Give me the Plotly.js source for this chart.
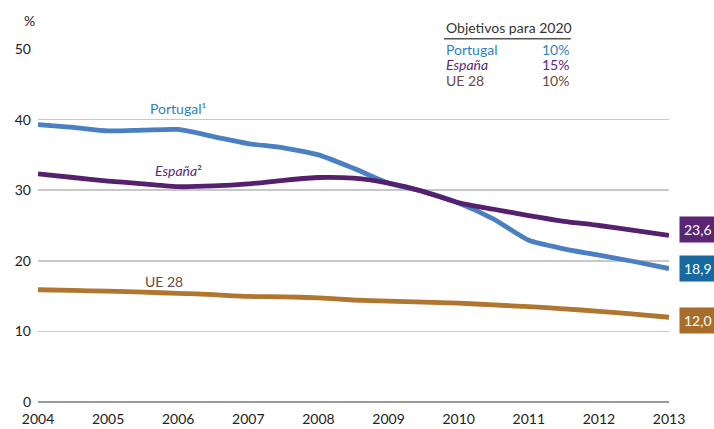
<!DOCTYPE html>
<html>
<head>
<meta charset="utf-8">
<script src="https://cdn.plot.ly/plotly-3.0.1.min.js"></script>
<style>html,body{margin:0;padding:0;background:#fff}#chart{width:714px;height:429px}</style>
</head>
<body>
<div id="chart"></div>
<script>
// Semi-annual reading positions
const years = [2004,2004.5,2005,2005.5,2006,2006.5,2007,2007.5,2008,2008.5,2009,2009.5,2010,2010.5,2011,2011.5,2012,2012.5,2013];
const portugal = [39.3,38.9,38.4,38.5,38.6,37.6,36.6,36.0,35.0,33.1,31.0,29.8,28.2,25.9,22.9,21.7,20.8,19.9,18.9];
const espana   = [32.3,31.8,31.3,30.9,30.5,30.6,30.9,31.4,31.8,31.7,31.0,29.8,28.2,27.3,26.4,25.6,25.0,24.3,23.6];
const ue28     = [15.9,15.8,15.7,15.55,15.4,15.2,14.95,14.9,14.75,14.45,14.3,14.15,14.0,13.75,13.5,13.2,12.85,12.45,12.0];
const xTicks = [2004,2005,2006,2007,2008,2009,2010,2011,2012,2013];
const yTicks = [0,10,20,30,40,50];
const seriesNames = ["Portugal","España","UE 28"];
const targets = ["10%","15%","10%"];
const endLabels = ["18,9","23,6","12,0"];

const FONT = "Lato, 'Open Sans', sans-serif";
const lineCol = ["#4a7fc1","#55216e","#b0752f"];
const boxCol = ["#17699f","#5a2673","#a86d2a"];
const txtCol = ["#2b83c0","#5d2a7a","#6b4a3f"];

const mk = (y, c) => ({x: years, y: y, type: "scatter", mode: "lines",
  line: {color: c, width: 4.8, shape: "spline", smoothing: 0.6}, hoverinfo: "skip", showlegend: false});

const data = [mk(ue28, lineCol[2]), mk(portugal, lineCol[0]), mk(espana, lineCol[1])];

const last = [portugal[portugal.length-1], espana[espana.length-1], ue28[ue28.length-1]];
const endShift = [0, 6, -3];

const annotations = [];
// end labels
for (let i = 0; i < 3; i++) {
  annotations.push({x: 2013, y: last[i], xref: "x", yref: "y", text: endLabels[i], showarrow: false,
    xanchor: "left", xshift: 10, yshift: endShift[i], bgcolor: boxCol[i], borderpad: 4,
    font: {family: FONT, size: 14, color: "#fff"}});
}
// series labels
annotations.push({x: 2006.0, y: 41.6, text: "Portugal¹", showarrow: false,
  font: {family: FONT, size: 14, color: txtCol[0]}});
annotations.push({x: 2006.0, y: 32.8, text: "<i>España</i>²", showarrow: false,
  font: {family: FONT, size: 14, color: txtCol[1]}});
annotations.push({x: 2005.8, y: 17.0, text: "UE 28", showarrow: false,
  font: {family: FONT, size: 14, color: txtCol[2]}});
// % unit (above plot area, paper coords)
annotations.push({x: -0.025, y: 1.082, xref: "paper", yref: "paper", text: "%", showarrow: false,
  yanchor: "middle", font: {family: FONT, size: 14, color: "#222"}});
// targets box heading
annotations.push({x: 2009.79, y: 1.06, xref: "x", yref: "paper", text: "Objetivos para 2020", showarrow: false,
  xanchor: "left", yanchor: "middle", font: {family: FONT, size: 14, color: "#333"}});
const rowY = [50.0, 47.75, 45.6];
for (let i = 0; i < 3; i++) {
  annotations.push({x: 2009.79, y: rowY[i], text: i === 1 ? "<i>" + seriesNames[i] + "</i>" : seriesNames[i],
    showarrow: false, xanchor: "left", yanchor: "middle", font: {family: FONT, size: 14, color: txtCol[i]}});
  annotations.push({x: 2011.6, y: rowY[i], text: targets[i], showarrow: false, xanchor: "right",
    yanchor: "middle", font: {family: FONT, size: 14, color: txtCol[i]}});
}

const shapes = [
  {type: "rect", xref: "x", yref: "y", x0: 2009.66, x1: 2011.77, y0: 44.2, y1: 51.0,
    fillcolor: "#fff", line: {width: 0}, layer: "above"},
  {type: "line", xref: "x", yref: "paper", x0: 2009.79, x1: 2011.6, y0: 1.029, y1: 1.029,
    line: {color: "#555", width: 1.5}}
];

const layout = {
  width: 714, height: 429,
  margin: {l: 38, r: 45, t: 49, b: 27, pad: 0},
  paper_bgcolor: "#fff", plot_bgcolor: "#fff",
  showlegend: false,
  xaxis: {range: [2004, 2013], tickvals: xTicks, ticktext: xTicks.map(String), showgrid: false,
    zeroline: false, showline: false, ticks: "", ticklabelstandoff: 7,
    tickfont: {family: FONT, size: 14, color: "#222"}, fixedrange: true},
  yaxis: {range: [0, 50], tickvals: yTicks, showgrid: true, gridcolor: "#c8c8c8", gridwidth: 1.5,
    zeroline: true, zerolinecolor: "#999", zerolinewidth: 2.5, showline: false, ticks: "",
    ticklabelstandoff: 6, tickfont: {family: FONT, size: 14, color: "#222"}, fixedrange: true},
  annotations: annotations,
  shapes: shapes
};

Plotly.newPlot("chart", data, layout, {staticPlot: true, displayModeBar: false});
</script>
</body>
</html>
